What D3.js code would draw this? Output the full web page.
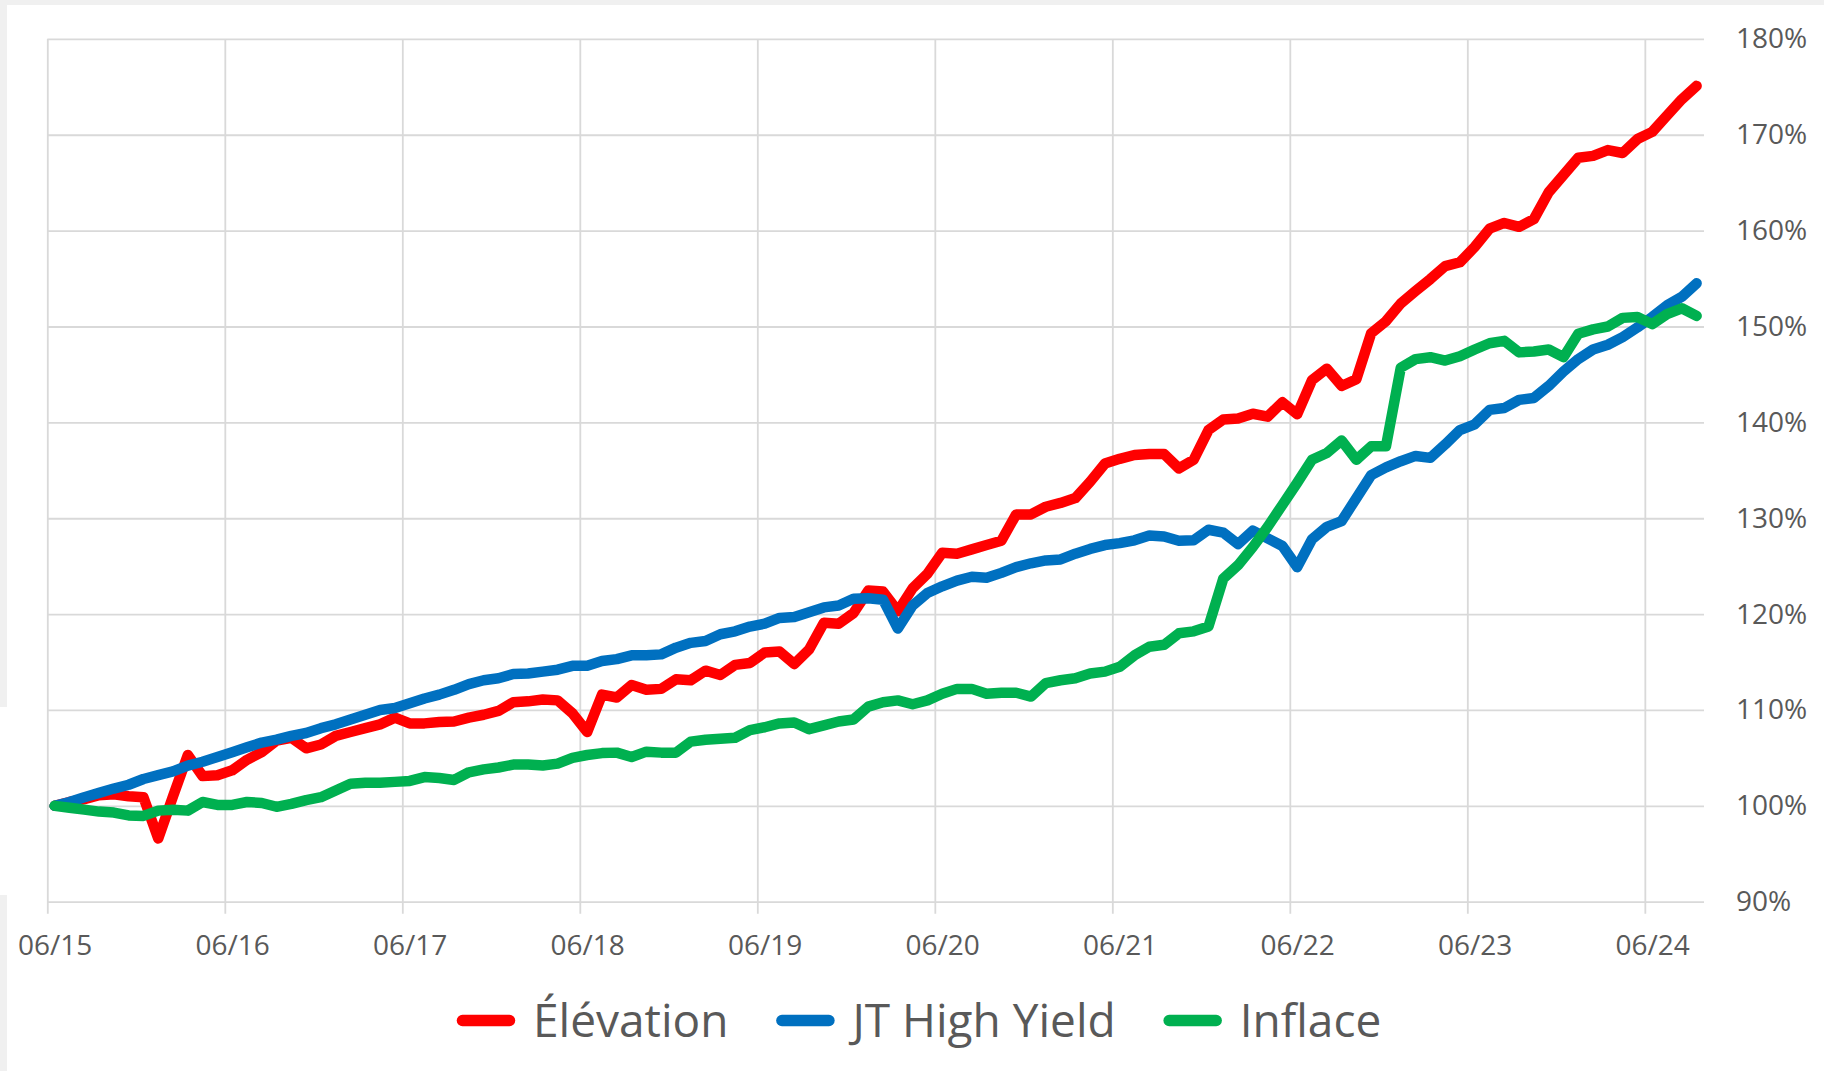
<!DOCTYPE html>
<html>
<head>
<meta charset="utf-8">
<script src="https://cdn.jsdelivr.net/npm/d3@7"></script>
<style>
  html, body { margin: 0; padding: 0; background: #fff; }
  svg { display: block; font-family: "Open Sans", sans-serif; }
</style>
</head>
<body>
<svg id="chart" width="1824" height="1071"></svg>
<script>
// Monthly index values, 06/2015 .. 09/2024 (start = 100 %)
const xLabels = ['06/15', '06/16', '06/17', '06/18', '06/19', '06/20', '06/21', '06/22', '06/23', '06/24'];
const yTicks = [90, 100, 110, 120, 130, 140, 150, 160, 170, 180];

const elevation = [
  100.0, 100.4, 100.7, 101.1, 101.2, 101.0, 100.9, 96.6, 101.0, 105.3, 103.1, 103.2,
  103.7, 104.8, 105.6, 106.8, 107.1, 106.0, 106.4, 107.3, 107.7, 108.1, 108.5, 109.2,
  108.6, 108.6, 108.75, 108.8, 109.2, 109.5, 109.9, 110.8, 110.9, 111.1, 111.0, 109.65,
  107.7, 111.6, 111.3, 112.6, 112.1, 112.2, 113.2, 113.1, 114.1, 113.65, 114.7, 114.9,
  116.0, 116.1, 114.8, 116.3, 119.1, 119.0, 120.1, 122.45, 122.35, 120.3, 122.7, 124.2,
  126.4, 126.3, 126.75, 127.2, 127.65, 130.4, 130.4, 131.2, 131.6, 132.1, 133.8, 135.7,
  136.2, 136.6, 136.7, 136.7, 135.2, 136.1, 139.2, 140.3, 140.4, 140.9, 140.6, 142.1,
  140.85, 144.4, 145.6, 143.8, 144.5, 149.3, 150.55, 152.4, 153.7, 154.95, 156.3, 156.7,
  158.3, 160.2, 160.8, 160.4, 161.2, 164.0, 165.8, 167.6, 167.8, 168.4, 168.1, 169.55,
  170.3, 172.0, 173.7, 175.1
];

const jtHighYield = [
  100.0, 100.4, 100.9, 101.35, 101.8, 102.2, 102.8, 103.2, 103.6, 104.2, 104.6, 105.1,
  105.6, 106.1, 106.6, 106.9, 107.3, 107.6, 108.1, 108.5, 109.0, 109.5, 110.0, 110.2,
  110.7, 111.2, 111.6, 112.1, 112.7, 113.1, 113.3, 113.75, 113.8, 114.0, 114.2, 114.6,
  114.6, 115.1, 115.3, 115.7, 115.7, 115.8, 116.5, 117.0, 117.2, 117.9, 118.2, 118.7,
  119.0, 119.6, 119.7, 120.2, 120.7, 120.9, 121.6, 121.65, 121.5, 118.5, 120.9, 122.2,
  122.9, 123.5, 123.9, 123.8, 124.3, 124.9, 125.3, 125.6, 125.7, 126.3, 126.8, 127.2,
  127.4, 127.7, 128.2, 128.1, 127.65, 127.7, 128.8, 128.5, 127.3, 128.7, 127.9, 127.1,
  124.9, 127.8, 129.1, 129.7, 132.1, 134.5, 135.3, 135.95, 136.5, 136.3, 137.7, 139.2,
  139.8, 141.3, 141.5, 142.35, 142.55, 143.8, 145.3, 146.6, 147.6, 148.1, 148.9, 149.9,
  151.0, 152.2, 153.1, 154.5
];

const inflace = [
  100.0, 99.8, 99.6, 99.4, 99.3, 99.0, 98.95, 99.5, 99.6, 99.5, 100.4, 100.1,
  100.1, 100.4, 100.3, 99.9, 100.2, 100.6, 100.9, 101.6, 102.3, 102.4, 102.4, 102.5,
  102.6, 103.0, 102.9, 102.7, 103.5, 103.8, 104.0, 104.3, 104.3, 104.2, 104.4, 105.0,
  105.3, 105.5, 105.55, 105.1, 105.65, 105.55, 105.55, 106.7, 106.9, 107.0, 107.1, 107.9,
  108.2, 108.6, 108.7, 108.0, 108.4, 108.8, 109.0, 110.35, 110.8, 111.0, 110.6, 111.0,
  111.7, 112.2, 112.2, 111.7, 111.8, 111.8, 111.4, 112.8, 113.1, 113.3, 113.8, 114.0,
  114.5, 115.7, 116.6, 116.8, 118.0, 118.2, 118.7, 123.7, 125.1, 127.0, 129.1, 131.4,
  133.7, 136.1, 136.8, 138.1, 136.1, 137.5, 137.5, 145.7, 146.6, 146.8, 146.45, 146.9,
  147.6, 148.25, 148.5, 147.3, 147.4, 147.6, 146.8, 149.25, 149.7, 150.0, 150.9, 151.0,
  150.25, 151.3, 151.9, 151.1
];

const seriesNames = ['Élévation', 'JT High Yield', 'Inflace'];
const seriesColors = ['#FF0000', '#0070C0', '#00B050'];
const seriesData = [elevation, jtHighYield, inflace];

// Layout
const width = 1824;
const height = 1071;
const plot = { left: 47.3, right: 1704, top: 38.9, bottom: 901.7 };
const gridColor = '#D9D9D9';
const textColor = '#595959';

const svg = d3.select('#chart');

// Page frame (thin grey edge as in the source screenshot)
svg.append('rect').attr('width', width).attr('height', height).attr('fill', '#F0F0F0');
svg.append('rect').attr('x', 7).attr('y', 5).attr('width', width - 7).attr('height', height - 5).attr('fill', '#fff');
svg.append('rect').attr('x', 0).attr('y', 707).attr('width', 8).attr('height', 188).attr('fill', '#fff');

// Scales: one band per month, points sit in the middle of their month
const nMonths = elevation.length;
const x = d3.scaleLinear().domain([0, nMonths]).range([plot.left, plot.right]);
const y = d3.scaleLinear().domain([90, 180]).range([plot.bottom, plot.top]);

const yearStarts = xLabels.map((_, k) => k * 12);

// Horizontal gridlines
svg.append('g')
  .attr('class', 'y-grid')
  .attr('transform', `translate(${plot.left},0)`)
  .call(d3.axisRight(y).tickValues(yTicks).tickSize(plot.right - plot.left).tickFormat(''))
  .call(g => g.select('.domain').remove())
  .call(g => g.selectAll('line').attr('stroke', gridColor).attr('stroke-width', 1.8));

// Vertical gridlines (run a little below the axis as tick marks)
svg.append('g')
  .attr('class', 'x-grid')
  .attr('transform', `translate(0,${plot.top})`)
  .call(d3.axisBottom(x).tickValues(yearStarts).tickSize(plot.bottom - plot.top + 12).tickFormat(''))
  .call(g => g.select('.domain').remove())
  .call(g => g.selectAll('line').attr('stroke', gridColor).attr('stroke-width', 1.8));

// X labels, centred on the June point of each year
svg.append('g')
  .attr('class', 'x-axis')
  .attr('transform', `translate(0,${plot.bottom})`)
  .call(d3.axisBottom(x).tickValues(yearStarts.map(v => v + 0.5)).tickSize(0).tickPadding(0)
    .tickFormat((d, i) => xLabels[i]))
  .call(g => g.select('.domain').remove())
  .call(g => g.selectAll('text')
    .attr('y', 53)
    .attr('dy', 0)
    .attr('fill', textColor)
    .style('font-size', '28px')
    .style('font-family', '"Open Sans", sans-serif'));

// Y labels on the right
svg.append('g')
  .attr('class', 'y-axis')
  .attr('transform', `translate(1736,0)`)
  .call(d3.axisRight(y).tickValues(yTicks).tickSize(0).tickPadding(0).tickFormat(d => d + '%'))
  .call(g => g.select('.domain').remove())
  .call(g => g.selectAll('text')
    .attr('text-anchor', 'start')
    .attr('fill', textColor)
    .style('font-size', '28px')
    .style('font-family', '"Open Sans", sans-serif'));

// Lines
const line = d3.line()
  .x((d, i) => x(i + 0.5))
  .y(d => y(d));

seriesData.forEach((vals, s) => {
  svg.append('path')
    .datum(vals)
    .attr('class', 'series')
    .attr('fill', 'none')
    .attr('stroke', seriesColors[s])
    .attr('stroke-width', 10.5)
    .attr('stroke-linejoin', 'round')
    .attr('stroke-linecap', 'round')
    .attr('d', line);
});

// Legend
const legend = svg.append('g').attr('class', 'legend');
const legendY = 1020.5;
let cx = 462.5;
seriesNames.forEach((name, s) => {
  legend.append('line')
    .attr('x1', cx).attr('x2', cx + 47)
    .attr('y1', legendY).attr('y2', legendY)
    .attr('stroke', seriesColors[s])
    .attr('stroke-width', 11.5)
    .attr('stroke-linecap', 'round');
  const tx = cx + 47 + 23.5;
  const t = legend.append('text')
    .attr('x', tx)
    .attr('y', legendY + 16.5)
    .attr('fill', textColor)
    .style('font-size', '46px')
    .text(name);
  cx = tx + t.node().getComputedTextLength() + 53.5;
});
</script>
</body>
</html>
